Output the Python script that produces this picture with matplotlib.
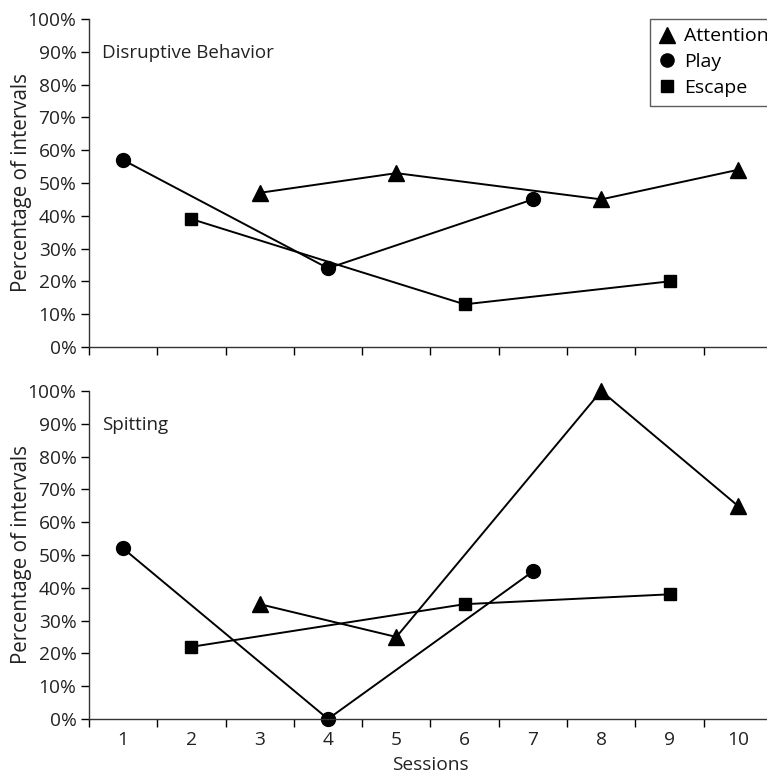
import matplotlib.pyplot as plt
from matplotlib.lines import Line2D

# DADOS

sessions = list(range(1, 11))

attention_x = [3, 5, 8, 10]
play_x = [1, 4, 7]
escape_x = [2, 6, 9]

# painel de cima - Disruptive Behavior
disr_attention = [47, 53, 45, 54]
disr_play = [57, 24, 45]
disr_escape = [39, 13, 20]

# painel de baixo - Spitting
spit_attention = [35, 25, 100, 65]
spit_play = [52, 0, 45]
spit_escape = [22, 35, 38]

y_ticks = list(range(0, 101, 10))
y_labels = [f"{v}%" for v in y_ticks]

plt.rcParams["font.family"] = ["Open Sans", "DejaVu Sans"]

fig = plt.figure(figsize=(7.67, 7.75), dpi=100)

ax_top = fig.add_axes([0.116, 0.5523, 0.8905, 0.4232])
ax_bot = fig.add_axes([0.116, 0.0723, 0.8905, 0.4232])

cor_txt = "#222222"


def desenha(ax, att, pla, esc, titulo, mostra_x):
    ax.plot(attention_x, att, color="black", lw=1.4, marker="^", ms=11, clip_on=False)
    ax.plot(play_x, pla, color="black", lw=1.4, marker="o", ms=10, clip_on=False)
    ax.plot(escape_x, esc, color="black", lw=1.4, marker="s", ms=9, clip_on=False)

    ax.set_xlim(0.5, 10.5)
    ax.set_ylim(0, 100)
    ax.set_yticks(y_ticks)
    ax.set_yticklabels(y_labels, fontsize=13.8, color=cor_txt)
    ax.set_ylabel("Percentage of intervals", fontsize=14.8, color=cor_txt, labelpad=-3)

    # marcas entre as categorias
    ax.set_xticks([i + 0.5 for i in range(0, 11)])
    ax.set_xticklabels([])
    ax.set_xticks(sessions, minor=True)
    if mostra_x:
        ax.set_xticklabels([str(s) for s in sessions], minor=True, fontsize=13.8, color=cor_txt)
    ax.tick_params(axis="x", which="minor", length=0, pad=9)
    ax.tick_params(axis="x", which="major", length=6, width=1, direction="out")
    ax.tick_params(axis="y", length=6, width=1, direction="out", pad=3)

    for lado in ["top", "right"]:
        ax.spines[lado].set_visible(False)
    for lado in ["left", "bottom"]:
        ax.spines[lado].set_linewidth(1)
        ax.spines[lado].set_color("#333333")

    ax.text(0.69, 89.5, titulo, fontsize=13.5, color=cor_txt, va="center", ha="left")


desenha(ax_top, disr_attention, disr_play, disr_escape, "Disruptive Behavior", False)
desenha(ax_bot, spit_attention, spit_play, spit_escape, "Spitting", True)

ax_bot.set_xlabel("Sessions", fontsize=13.8, color=cor_txt, labelpad=5)

# LEGENDA (a caixa passa da borda direita, como no original)

handles = [
    Line2D([], [], color="black", marker="^", ls="none", ms=11),
    Line2D([], [], color="black", marker="o", ls="none", ms=9.5),
    Line2D([], [], color="black", marker="s", ls="none", ms=8.5),
]
leg = fig.legend(
    handles,
    ["Attention", "Play", "Escape"],
    loc="upper left",
    bbox_to_anchor=(0.847, 0.5, 0.2, 0.476),
    bbox_transform=fig.transFigure,
    mode="expand",
    fontsize=14,
    frameon=True,
    fancybox=False,
    edgecolor="#333333",
    handlelength=0.9,
    handletextpad=0.4,
    labelspacing=0.4,
    borderpad=0.45,
    borderaxespad=0,
)
leg.get_frame().set_linewidth(1)

fig.savefig("out.png", dpi=100)
